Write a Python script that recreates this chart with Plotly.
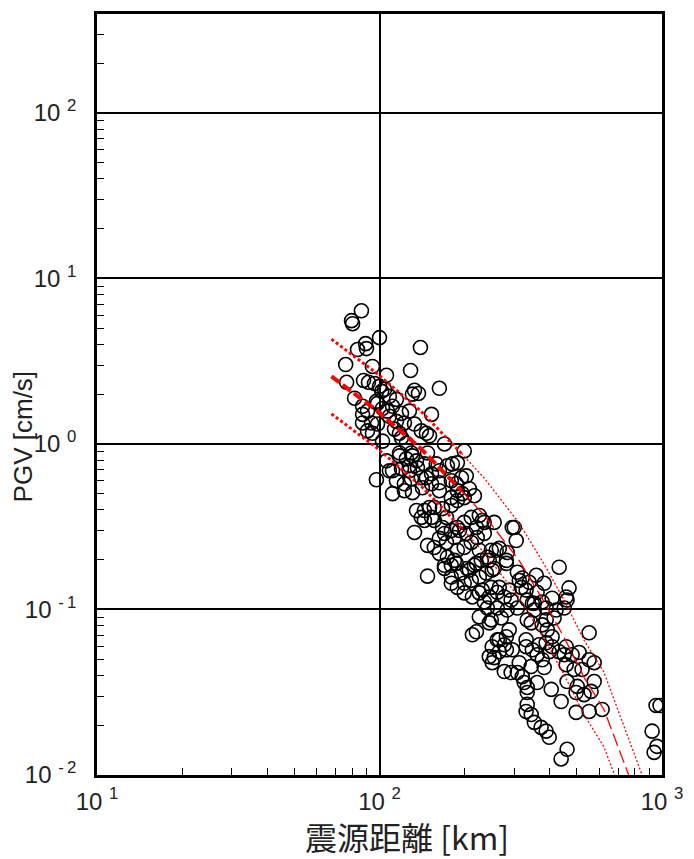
import plotly.graph_objects as go

# ---- observed data: hypocentral distance [km] and PGV [cm/s] ----
dist_km = [
    86.3, 79.6, 80.3, 100, 89.3, 89.9, 83.6, 139.6, 75.9, 94.4,
    128.8, 105.9, 76.5, 87.8, 91.4, 96.0, 162.9, 133.0, 137.4, 130.8,
    100, 104.2, 108.4, 81.6, 114.8, 111.2, 87.1, 90.7, 98.4, 102.5,
    106.7, 127.6, 119.6, 152.8, 87.1, 93.7, 98.4, 114.8, 122.5, 90.7,
    94.4, 113.0, 117.7, 140.6, 146.6, 150.3, 102.5, 124.5, 169.8, 199.5,
    117.7, 129.7, 147.9, 97.5, 117.7, 124.5, 130.8, 111.2, 119.6, 127.6,
    136.2, 144.2, 114.8, 122.5, 129.7, 140.6, 152.8, 162.9, 173.9, 188.6,
    122.5, 130.8, 141.9, 152.8, 162.9, 179.6, 195.0, 208.0, 188.6, 135.2,
    144.2, 152.8, 144.2, 156.3, 167.1, 179.6, 188.6, 199.5, 216.7, 133.0,
    147.9, 156.3, 162.9, 169.8, 179.6, 188.6, 199.5, 211.3, 225.6, 234.9,
    162.9, 173.9, 184.0, 188.6, 199.5, 211.3, 221.8, 234.9, 169.8, 179.6,
    187.0, 195.0, 204.6, 216.7, 229.3, 240.9, 147.9, 179.6, 188.6, 199.5,
    211.3, 225.6, 238.8, 199.5, 213.2, 225.6, 234.9, 254.7, 299.9, 304.8,
    265.5, 283.1, 281.2, 248.7, 244.7, 254.7, 307.6, 320.1, 317.7, 338.8,
    358.9, 382.8, 361.4, 432.5, 468.8, 461.3, 408.3, 248.7, 261.2, 276.6,
    292.4, 244.7, 333.4, 353.2, 376.7, 213.2, 220.3, 244.7, 240.9, 261.2,
    283.1, 307.6, 353.2, 389.0, 421.7, 450.8, 248.7, 269.8, 333.4, 344.4,
    376.7, 415.0, 392.6, 552.1, 287.7, 330.4, 261.2, 276.6, 281.2, 265.5,
    254.7, 250.6, 367.3, 389.0, 408.3, 398.9, 432.5, 450.8, 480.8, 361.4,
    376.7, 575.4, 458.1, 488.7, 521.2, 575.4, 344.4, 382.8, 276.6, 292.4,
    307.6, 320.1, 325.2, 333.4, 333.4, 361.4, 405.5, 439.5, 461.3, 501.2,
    496.6, 529.7, 561.0, 333.4, 330.4, 344.4, 353.2, 373.3, 389.0, 398.9,
    496.6, 552.1, 613.8, 461.3, 439.5, 952.8, 984.0, 922.6, 959.4, 937.6,
    108.4, 105.9, 111.2, 140.6, 150.3, 156.3, 167.1, 172.6, 172.6, 184.0,
    191.9, 202.8, 220.3, 231.2, 169.8, 179.6, 208.0, 220.3, 225.6, 250.6,
    258.9, 281.2, 295.1, 231.2, 265.5, 287.7, 312.4, 330.4, 347.6, 225.6,
    244.7, 265.5, 250.6, 281.2, 295.1, 312.4, 330.4, 347.6, 389.0, 408.3,
    458.1, 509.0, 552.1, 458.1, 127.6, 146.6, 162.9, 179.6, 187.0, 196.4,
    181.1, 202.8, 133.0, 119.6, 108.4, 87.1, 101.8, 97.5, 135.2, 158.8,
]
pgv_cms = [
    6.38, 5.56, 5.33, 4.39, 4.04, 3.77, 3.72, 3.83, 3.02, 2.94,
    2.78, 2.60, 2.36, 2.42, 2.36, 2.32, 2.17, 2.11, 2.02, 2.00,
    2.23, 2.14, 1.94, 1.89, 1.86, 1.69, 1.69, 1.58, 1.76, 1.64,
    1.58, 1.58, 1.53, 1.51, 1.34, 1.34, 1.32, 1.37, 1.34, 1.20,
    1.16, 1.23, 1.16, 1.20, 1.16, 1.12, 1.04, 1.01, 1.00, 0.908,
    0.883, 0.883, 0.883, 0.608, 0.847, 0.813, 0.847, 0.689, 0.708, 0.738,
    0.718, 0.758, 0.600, 0.575, 0.616, 0.625, 0.660, 0.689, 0.738, 0.769,
    0.522, 0.508, 0.544, 0.575, 0.583, 0.600, 0.625, 0.537, 0.522, 0.396,
    0.396, 0.360, 0.345, 0.413, 0.407, 0.425, 0.455, 0.474, 0.487, 0.292,
    0.244, 0.237, 0.269, 0.288, 0.300, 0.313, 0.336, 0.360, 0.370, 0.336,
    0.218, 0.207, 0.198, 0.228, 0.237, 0.254, 0.272, 0.288, 0.177, 0.185,
    0.190, 0.166, 0.177, 0.185, 0.198, 0.207, 0.159, 0.144, 0.136, 0.144,
    0.150, 0.157, 0.166, 0.126, 0.119, 0.126, 0.111, 0.336, 0.313, 0.261,
    0.234, 0.221, 0.190, 0.228, 0.198, 0.177, 0.168, 0.155, 0.136, 0.146,
    0.161, 0.144, 0.127, 0.180, 0.135, 0.114, 0.117, 0.136, 0.127, 0.119,
    0.114, 0.119, 0.114, 0.109, 0.111, 0.0703, 0.0733, 0.0519, 0.102, 0.102,
    0.0993, 0.102, 0.0993, 0.102, 0.0993, 0.102, 0.0865, 0.0889, 0.0865, 0.0830,
    0.0807, 0.0889, 0.0753, 0.0723, 0.0753, 0.0656, 0.0656, 0.0612, 0.0571, 0.0556,
    0.0512, 0.0477, 0.0612, 0.0629, 0.0596, 0.0556, 0.0556, 0.0533, 0.0533, 0.0533,
    0.0497, 0.0477, 0.0464, 0.0434, 0.0434, 0.0367, 0.0452, 0.0446, 0.0422, 0.0416,
    0.0416, 0.0393, 0.0362, 0.0338, 0.0315, 0.0362, 0.0329, 0.0278, 0.0367, 0.0343,
    0.0315, 0.0306, 0.0320, 0.0267, 0.0242, 0.0232, 0.0208, 0.0194, 0.0184, 0.0169,
    0.0239, 0.0242, 0.0249, 0.0143, 0.0125, 0.0263, 0.0263, 0.0184, 0.0149, 0.0137,
    0.689, 0.791, 0.501, 0.360, 0.413, 0.345, 0.313, 0.360, 0.254, 0.272,
    0.300, 0.288, 0.313, 0.345, 0.185, 0.157, 0.173, 0.190, 0.228, 0.173,
    0.228, 0.198, 0.313, 0.131, 0.136, 0.131, 0.150, 0.131, 0.109, 0.0902,
    0.0830, 0.0656, 0.0596, 0.0684, 0.0571, 0.0477, 0.0596, 0.0571, 0.0865, 0.0684,
    0.0596, 0.0550, 0.0497, 0.119, 0.689, 0.625, 0.522, 0.474, 0.575, 0.501,
    0.758, 0.642, 1.32, 1.09, 1.47, 1.51, 2.08, 1.81, 0.791, 0.758,
]

# ---- attenuation curves ----
curve_x = [67.6, 98.4, 140.6, 195, 235, 312, 389, 450, 530, 623, 764, 852]
median_y = [2.56, 1.58, 0.933, 0.522, 0.37, 0.198, 0.106, 0.068, 0.0388, 0.0249, 0.0099, None]
upper_y = [4.30, 2.65, 1.57, 0.877, 0.621, 0.333, 0.179, 0.114, 0.0652, 0.0418, 0.0166, 0.0099]
lower_y = [1.52, 0.94, 0.556, 0.311, 0.220, 0.118, 0.0634, 0.0405, 0.0231, 0.0148, 0.0059, None]
SPLIT = 3  # curves drawn thick up to the 4th point, thin beyond

x_ticks = [10, 100, 1000]
x_ticktext = ["10\u00a0<sup>1</sup>", "10\u00a0<sup>2</sup>", "10\u00a0<sup>3</sup>"]
y_ticks = [0.01, 0.1, 1, 10, 100]
y_ticktext = ["10\u00a0<sup>-\u20092</sup>", "10\u00a0<sup>-\u20091</sup>", "10\u00a0<sup>0</sup>",
              "10\u00a0<sup>1</sup>", "10\u00a0<sup>2</sup>"]
x_minor = [m * d for d in (10, 100) for m in range(2, 10)]
y_minor = [m * d for d in (0.01, 0.1, 1, 10, 100) for m in range(2, 10) if m * d <= 400]

RED = "#ff0000"

fig = go.Figure()
fig.add_trace(go.Scatter(
    x=dist_km, y=pgv_cms, mode="markers",
    marker=dict(symbol="circle-open", size=14, color="black", line=dict(width=1.6)),
    showlegend=False, hoverinfo="skip",
))


def clean(xs, ys):
    pts = [(a, b) for a, b in zip(xs, ys) if b is not None]
    return [p[0] for p in pts], [p[1] for p in pts]


for ys, thick_dash, thin_dash, thick_w in [
    (median_y, "10px,4px", "13px,5px", 4),
    (upper_y, "3px,2.5px", "2px,2px", 3),
    (lower_y, "3px,2.5px", "2px,2px", 3),
]:
    xa, ya = clean(curve_x[:SPLIT + 1], ys[:SPLIT + 1])
    fig.add_trace(go.Scatter(x=xa, y=ya, mode="lines",
                             line=dict(color=RED, width=thick_w, dash=thick_dash),
                             showlegend=False, hoverinfo="skip"))
    xb, yb = clean(curve_x[SPLIT:], ys[SPLIT:])
    fig.add_trace(go.Scatter(x=xb, y=yb, mode="lines",
                             line=dict(color=RED, width=1.3, dash=thin_dash),
                             showlegend=False, hoverinfo="skip"))

axis_common = dict(
    type="log", showline=True, linecolor="black", linewidth=2.5, mirror=True,
    showgrid=True, gridcolor="black", gridwidth=2, zeroline=False, ticks="",
    tickfont=dict(family="Liberation Sans, Arial, sans-serif", size=24, color="#222"),
)

fig.update_xaxes(
    **axis_common, range=[1, 3], tickmode="array", tickvals=x_ticks, ticktext=x_ticktext,
    ticklabelstandoff=3,
    minor=dict(tickmode="array", tickvals=x_minor, ticks="inside", ticklen=7,
               tickwidth=1.2, tickcolor="black", showgrid=False),
)
fig.update_yaxes(
    **axis_common, range=[-2, 2.598], tickmode="array", tickvals=y_ticks, ticktext=y_ticktext,
    ticklabelstandoff=13,
    minor=dict(tickmode="array", tickvals=y_minor, ticks="inside", ticklen=7,
               tickwidth=1.2, tickcolor="black", showgrid=False),
)

fig.update_layout(
    width=694, height=859,
    margin=dict(l=97, r=31, t=11, b=84),
    paper_bgcolor="white", plot_bgcolor="white",
    annotations=[
        dict(text="PGV [cm/s]", xref="paper", yref="paper", x=-0.1305, y=0.444,
             xanchor="center", yanchor="middle", textangle=-90, showarrow=False,
             font=dict(family="Liberation Sans, Arial, sans-serif", size=26, color="#222")),
        dict(text="震源距離 [km]", xref="paper", yref="paper", x=0.549, y=-0.0805,
             xanchor="center", yanchor="middle", showarrow=False,
             font=dict(family="Noto Sans CJK JP, sans-serif", size=32, color="#222")),
    ],
)

fig.write_html("out.html")
